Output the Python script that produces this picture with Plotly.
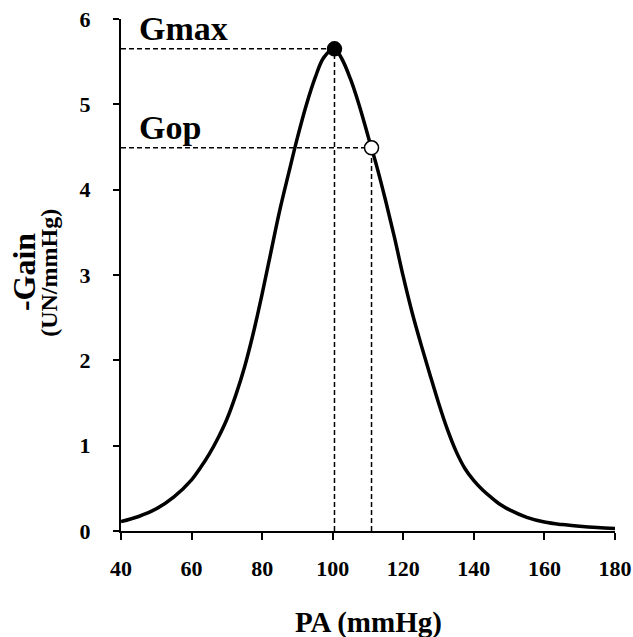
import plotly.graph_objects as go

# Data
pa = [40, 45, 50, 55, 60, 62.5, 65, 67.5, 70, 72.5, 75, 77.5, 80, 82.5, 85, 87.5, 90,
      92.5, 95, 97.5, 100.5, 102.5, 105, 107.5, 110, 112.5, 115, 117.5, 120, 122.5, 125,
      127.5, 130, 132.5, 135, 137.5, 140, 142.5, 145, 147.5, 150, 155, 160, 165, 170,
      175, 180]
gain = [0.11, 0.17, 0.26, 0.40, 0.60, 0.74, 0.90, 1.09, 1.31, 1.59, 1.92, 2.32, 2.78,
        3.27, 3.76, 4.19, 4.61, 4.99, 5.31, 5.55, 5.65, 5.54, 5.30, 4.99, 4.63, 4.27,
        3.87, 3.44, 2.98, 2.56, 2.19, 1.84, 1.50, 1.19, 0.93, 0.73, 0.59, 0.48, 0.39,
        0.31, 0.25, 0.16, 0.105, 0.075, 0.055, 0.04, 0.03]
gmax_x, gmax_y = 100.5, 5.65
gop_x, gop_y = 111, 4.49
x_ticks = [40, 60, 80, 100, 120, 140, 160, 180]
y_ticks = [0, 1, 2, 3, 4, 5, 6]

FONT = "Liberation Serif"
dash_style = dict(color="black", width=1.5, dash="5px,3px")

fig = go.Figure()
# dashed guide lines
fig.add_trace(go.Scatter(x=[x_ticks[0], gmax_x], y=[gmax_y, gmax_y], mode="lines",
                         line=dash_style, hoverinfo="skip", showlegend=False))
fig.add_trace(go.Scatter(x=[gmax_x, gmax_x], y=[0, gmax_y], mode="lines",
                         line=dash_style, hoverinfo="skip", showlegend=False))
fig.add_trace(go.Scatter(x=[x_ticks[0], gop_x], y=[gop_y, gop_y], mode="lines",
                         line=dash_style, hoverinfo="skip", showlegend=False))
fig.add_trace(go.Scatter(x=[gop_x, gop_x], y=[0, gop_y], mode="lines",
                         line=dash_style, hoverinfo="skip", showlegend=False))
# curve
fig.add_trace(go.Scatter(x=pa, y=gain, mode="lines",
                         line=dict(color="black", width=3.5, shape="spline", smoothing=1),
                         showlegend=False))
# points
fig.add_trace(go.Scatter(x=[gmax_x], y=[gmax_y], mode="markers",
                         marker=dict(size=14, color="black", line=dict(color="black", width=1.5)),
                         showlegend=False, cliponaxis=False))
fig.add_trace(go.Scatter(x=[gop_x], y=[gop_y], mode="markers",
                         marker=dict(size=14, color="white", line=dict(color="black", width=1.5)),
                         showlegend=False, cliponaxis=False))

fig.add_annotation(x=44.4, y=5.89, xref="x", yref="y", text="<b>Gmax</b>", showarrow=False,
                   xanchor="left", yanchor="middle", font=dict(family=FONT, size=34, color="black"))
fig.add_annotation(x=44.4, y=4.73, xref="x", yref="y", text="<b>Gop</b>", showarrow=False,
                   xanchor="left", yanchor="middle", font=dict(family=FONT, size=34, color="black"))
# axis titles
fig.add_annotation(x=0.5, y=-0.178, xref="paper", yref="paper", text="<b>PA (mmHg)</b>",
                   showarrow=False, xanchor="center", yanchor="middle",
                   font=dict(family=FONT, size=29, color="black"))
fig.add_annotation(x=-0.195, y=0.505, xref="paper", yref="paper", text="<b>-Gain</b>",
                   showarrow=False, textangle=-90, xanchor="center", yanchor="middle",
                   font=dict(family=FONT, size=32, color="black"))
fig.add_annotation(x=-0.145, y=0.505, xref="paper", yref="paper", text="<b>(UN/mmHg)</b>",
                   showarrow=False, textangle=-90, xanchor="center", yanchor="middle",
                   font=dict(family=FONT, size=24, color="black"))

fig.update_xaxes(range=[40, 180], tickvals=x_ticks, ticktext=[f"<b>{v}</b>" for v in x_ticks],
                 showline=True, linecolor="black", linewidth=2, ticks="outside", ticklen=7,
                 tickwidth=2, tickcolor="black", showgrid=False, zeroline=False, automargin=False,
                 ticklabelstandoff=10, tickfont=dict(family=FONT, size=22, color="black"))
fig.update_yaxes(range=[0, 6], tickvals=y_ticks, ticktext=[f"<b>{v}</b>" for v in y_ticks],
                 showline=True, linecolor="black", linewidth=2, ticks="outside", ticklen=6,
                 tickwidth=2, tickcolor="black", showgrid=False, zeroline=False, automargin=False,
                 ticklabelstandoff=18, tickfont=dict(family=FONT, size=22, color="black"))
fig.update_layout(width=633, height=637, margin=dict(l=121, r=18, t=19, b=106, autoexpand=False),
                  plot_bgcolor="white", paper_bgcolor="white")
fig.write_html("out.html", config={"displayModeBar": False},
               post_script="document.body.style.margin='0';document.body.style.overflow='hidden';")
